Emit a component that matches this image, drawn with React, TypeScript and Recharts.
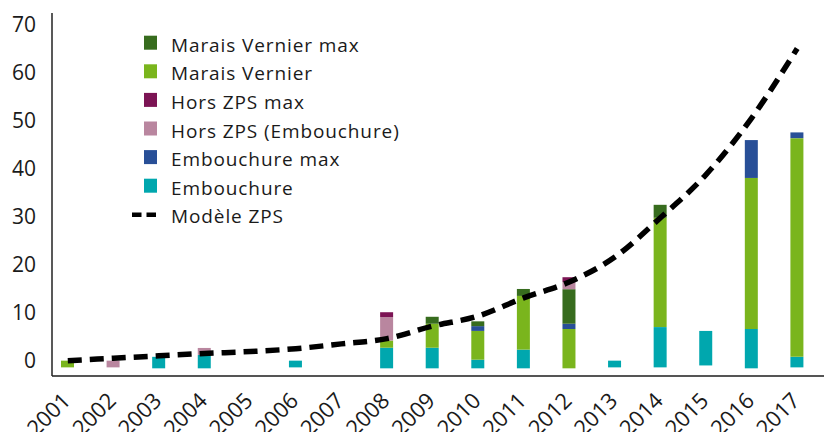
import { ComposedChart, Bar, Line, XAxis, YAxis } from 'recharts'

const years = ['2001', '2002', '2003', '2004', '2005', '2006', '2007', '2008', '2009', '2010', '2011', '2012', '2013', '2014', '2015', '2016', '2017']
// bars in the source start a little below zero
const baseline = [-1.4, -1.4, -1.6, -1.6, 0, -1.4, 0, -1.6, -1.6, -1.6, -1.6, -1.6, -1.4, -1.4, -1.0, -1.6, -1.4]
const embouchure = [0, 0, 2.4, 2.8, 0, 1.4, 0, 4.3, 4.3, 1.8, 3.9, 0, 1.4, 8.4, 7.2, 8.2, 2.2]
const maraisVernier = [1.4, 0, 0, 0, 0, 0, 0, 1.5, 5.0, 6.0, 11.2, 8.2, 0, 22.8, 0, 31.5, 45.6]
const embouchureMax = [0, 0, 0, 0, 0, 0, 0, 0, 0, 1.0, 0, 1.1, 0, 0, 0, 7.9, 1.2]
const maraisVernierMax = [0, 0, 0, 0, 0, 0, 0, 0, 1.45, 1.0, 1.45, 7.2, 0, 2.7, 0, 0, 0]
const horsZps = [0, 1.4, 0, 1.45, 0, 0, 0, 4.9, 0, 0, 0, 1.5, 0, 0, 0, 0, 0]
const horsZpsMax = [0, 0, 0, 0, 0, 0, 0, 1.0, 0, 0, 0, 1.0, 0, 0, 0, 0, 0]
const modeleZps = [0, 0.5, 1.0, 1.5, 1.9, 2.5, 3.5, 4.6, 7.2, 9.3, 13.1, 16.4, 21.6, 29.8, 38.8, 50.6, 65.1]
const yTicks = [0, 10, 20, 30, 40, 50, 60, 70]

const COLORS = {
  maraisMax: '#376c1e',
  marais: '#7ab51d',
  horsMax: '#7c1454',
  hors: '#b9869f',
  embMax: '#284f97',
  emb: '#00a7ae'
}

const legendItems = [
  { label: 'Marais Vernier max', color: COLORS.maraisMax },
  { label: 'Marais Vernier', color: COLORS.marais },
  { label: 'Hors ZPS max', color: COLORS.horsMax },
  { label: 'Hors ZPS (Embouchure)', color: COLORS.hors },
  { label: 'Embouchure max', color: COLORS.embMax },
  { label: 'Embouchure', color: COLORS.emb },
  { label: 'Modèle ZPS', color: '#000' }
]

const data = years.map((year, i) => ({
  year,
  base: baseline[i],
  emb: embouchure[i],
  marais: maraisVernier[i],
  embMax: embouchureMax[i],
  maraisMax: maraisVernierMax[i],
  hors: horsZps[i],
  horsMax: horsZpsMax[i],
  model: modeleZps[i]
}))

const FONT = '"Open Sans", sans-serif'

function YearTick(props: any) {
  const { x, y, payload } = props
  const ax = x + 4
  const ay = y + 26
  return (
    <text x={ax} y={ay} textAnchor="end" transform={`rotate(-45 ${ax} ${ay})`} fontSize={22} fill="#1a1a1a" fontFamily={FONT}>
      {payload.value}
    </text>
  )
}

function LegendOverlay() {
  return (
    <svg width={440} height={240} style={{ position: 'absolute', left: 0, top: 0, pointerEvents: 'none' }}>
      {legendItems.map((item, i) => {
        const base = 51.7 + i * 28.6
        const isLine = i === legendItems.length - 1
        return (
          <g key={item.label}>
            {isLine ? (
              <line x1={132} x2={157} y1={base - 8.5} y2={base - 8.5} stroke="#000" strokeWidth={4.5} strokeDasharray="9.5 5" />
            ) : (
              <rect x={144} y={base - 16} width={13} height={14} fill={item.color} />
            )}
            <text x={171} y={base} fontSize={19} letterSpacing={0.9} fill="#1a1a1a" fontFamily={FONT}>
              {item.label}
            </text>
          </g>
        )
      })}
    </svg>
  )
}

export default function App() {
  return (
    <div style={{ position: 'absolute', left: 0, top: 0, width: 824, height: 432, background: '#fff', overflow: 'hidden' }}>
      <ComposedChart width={824} height={432} data={data} margin={{ top: 13, right: 0, bottom: 0, left: 0 }}>
        <XAxis
          dataKey="year"
          interval={0}
          height={56}
          padding={{ left: -7, right: 4 }}
          tickLine={false}
          tickSize={0}
          tickMargin={0}
          axisLine={{ stroke: '#555', strokeWidth: 2 }}
          tick={<YearTick />}
        />
        <YAxis
          type="number"
          domain={[-3.2, 72.5]}
          ticks={yTicks}
          allowDataOverflow
          width={52}
          tickLine={false}
          tickSize={0}
          tickMargin={16}
          axisLine={{ stroke: '#222', strokeWidth: 1.5 }}
          tick={{ fontSize: 21, fill: '#1a1a1a', fontFamily: FONT }}
        />
        <Bar dataKey="base" stackId="a" barSize={13} fill="transparent" isAnimationActive={false} />
        <Bar dataKey="emb" stackId="a" barSize={13} fill={COLORS.emb} isAnimationActive={false} />
        <Bar dataKey="marais" stackId="a" barSize={13} fill={COLORS.marais} isAnimationActive={false} />
        <Bar dataKey="embMax" stackId="a" barSize={13} fill={COLORS.embMax} isAnimationActive={false} />
        <Bar dataKey="maraisMax" stackId="a" barSize={13} fill={COLORS.maraisMax} isAnimationActive={false} />
        <Bar dataKey="hors" stackId="a" barSize={13} fill={COLORS.hors} isAnimationActive={false} />
        <Bar dataKey="horsMax" stackId="a" barSize={13} fill={COLORS.horsMax} isAnimationActive={false} />
        <Line
          dataKey="model"
          type="monotone"
          stroke="#000"
          strokeWidth={5.5}
          strokeDasharray="14 8"
          dot={false}
          activeDot={false}
          isAnimationActive={false}
        />
      </ComposedChart>
      <LegendOverlay />
    </div>
  )
}
